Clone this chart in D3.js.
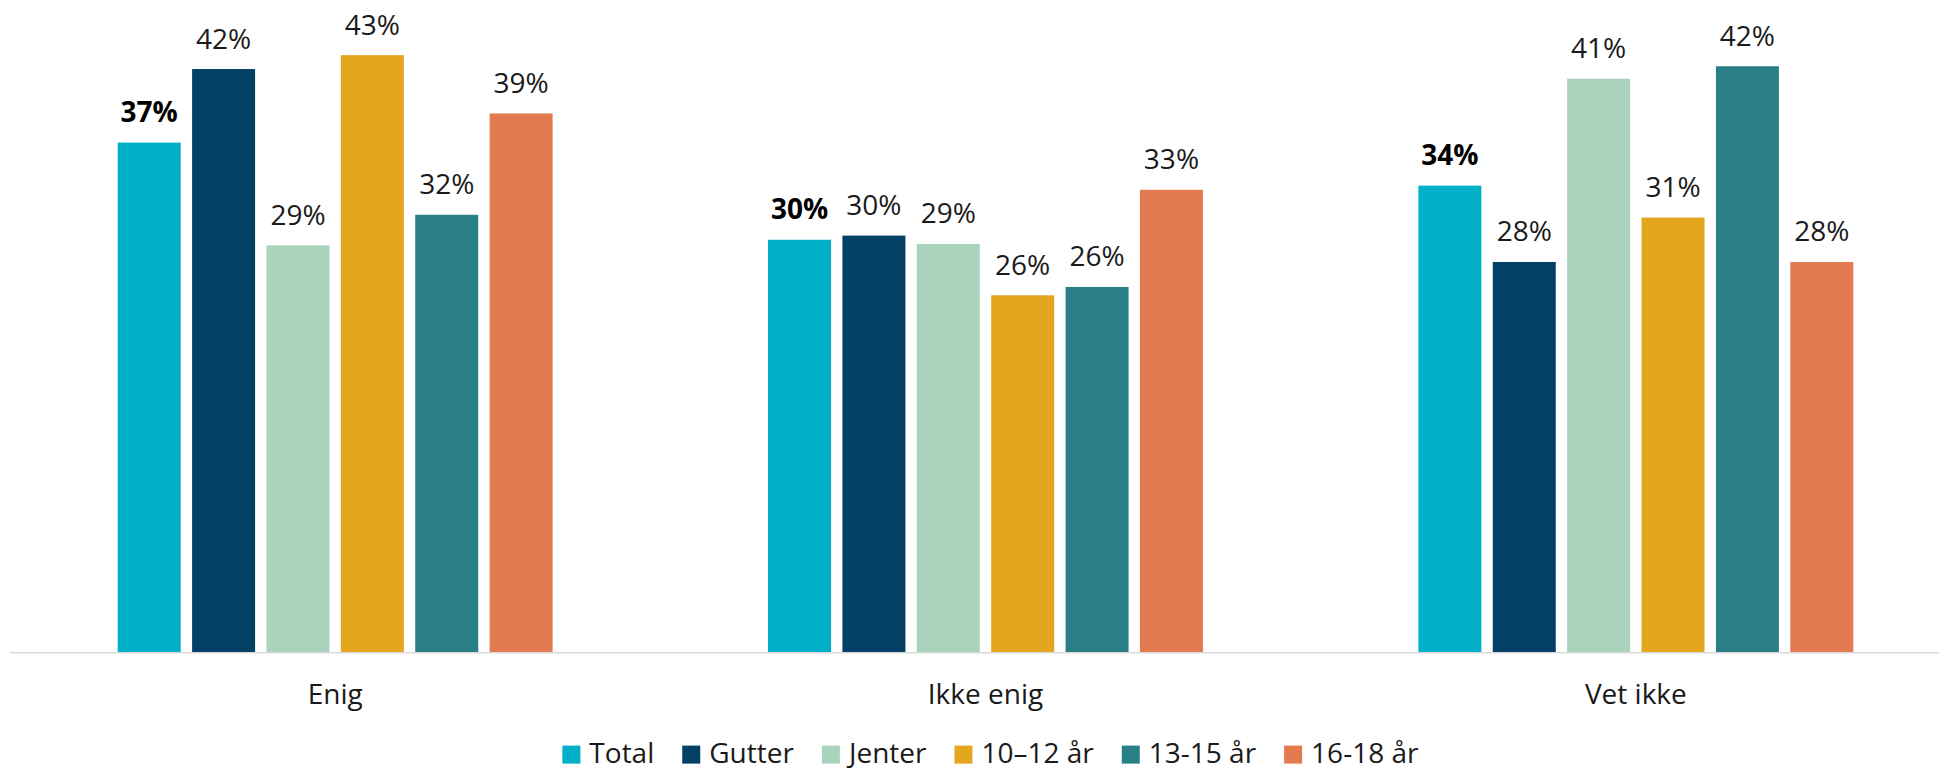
<!DOCTYPE html>
<html>
<head>
<meta charset="utf-8">
<script src="https://cdn.jsdelivr.net/npm/d3@7"></script>
<style>
  html, body { margin: 0; padding: 0; background: #fff; }
  svg { display: block; }
  text { font-family: "Open Sans", sans-serif; }
</style>
</head>
<body>
<svg id="chart" width="1939" height="771"></svg>
<script>
// Answer categories along the x axis
const categories = ["Enig", "Ikke enig", "Vet ikke"];

// Respondent groups (one bar per group within each category)
const series = ["Total", "Gutter", "Jenter", "10–12 år", "13-15 år", "16-18 år"];
const seriesColors = ["#00afc8", "#044066", "#aad3bd", "#e5a61f", "#2a7f86", "#e47b50"];

// Share answering each category, per group (fractions)
const totalValues  = [0.367, 0.297, 0.336];
const gutterValues = [0.420, 0.300, 0.281];
const jenterValues = [0.293, 0.294, 0.413];
const age1012      = [0.430, 0.257, 0.313];
const age1315      = [0.315, 0.263, 0.422];
const age1618      = [0.388, 0.333, 0.281];

const seriesValues = [totalValues, gutterValues, jenterValues, age1012, age1315, age1618];

const rows = [];
categories.forEach((c, ci) => {
  series.forEach((s, si) => {
    rows.push({ category: c, series: s, si, value: seriesValues[si][ci] });
  });
});

const W = 1939, H = 771;
const FONT = 28;
const svg = d3.select("#chart");

const baseY = 652;
const x0 = d3.scaleBand().domain(categories).range([10, 1961]);
const x1 = d3.scaleBand().domain(series).range([0, x0.bandwidth()])
  .paddingInner(0.153).paddingOuter(1.448);
const y = d3.scaleLinear().domain([0, 0.45]).range([baseY, baseY - 45 * 13.88]);
const color = d3.scaleOrdinal().domain(series).range(seriesColors);
const fmt = d3.format(".0%");

// Bars
svg.append("g").selectAll("rect")
  .data(rows)
  .join("rect")
  .attr("x", d => x0(d.category) + x1(d.series))
  .attr("y", d => y(d.value))
  .attr("width", x1.bandwidth())
  .attr("height", d => y(0) - y(d.value))
  .attr("fill", d => color(d.series));

// Value labels
svg.append("g").selectAll("text")
  .data(rows)
  .join("text")
  .attr("x", d => x0(d.category) + x1(d.series) + x1.bandwidth() / 2)
  .attr("y", d => y(d.value) - 20.5)
  .attr("text-anchor", "middle")
  .attr("font-size", FONT)
  .attr("font-weight", d => d.si === 0 ? "bold" : "normal")
  .attr("fill", d => d.si === 0 ? "#000" : "#1a1a1a")
  .text(d => fmt(d.value));

// Category axis
const xAxis = svg.append("g")
  .attr("transform", `translate(0,${baseY})`)
  .call(d3.axisBottom(x0).tickSize(0).tickPadding(0));
xAxis.select(".domain").attr("stroke", "#d9d9d9").attr("stroke-width", 1.6)
  .attr("d", `M10,0.8H${W}`);
xAxis.selectAll(".tick text")
  .attr("y", 52.3)
  .attr("dy", null)
  .attr("font-size", FONT)
  .attr("font-family", "\"Open Sans\", sans-serif")
  .attr("fill", "#1a1a1a");

// Legend
const legendBase = 763;
const legendGap = 28;
const legend = svg.append("g");
const items = legend.selectAll("g")
  .data(series)
  .join("g");
items.append("rect")
  .attr("width", 18).attr("height", 18)
  .attr("y", -17.4)
  .attr("fill", d => color(d));
items.append("text")
  .attr("x", 27)
  .attr("font-size", FONT)
  .attr("fill", "#1a1a1a")
  .text(d => d);
let cursor = 0;
items.each(function () {
  const g = d3.select(this);
  g.attr("transform", `translate(${cursor},0)`);
  const tw = g.select("text").node().getComputedTextLength();
  cursor += 27 + tw + legendGap;
});
const legendWidth = cursor - legendGap;
legend.attr("transform", `translate(${990.4 - legendWidth / 2},${legendBase})`);
</script>
</body>
</html>
